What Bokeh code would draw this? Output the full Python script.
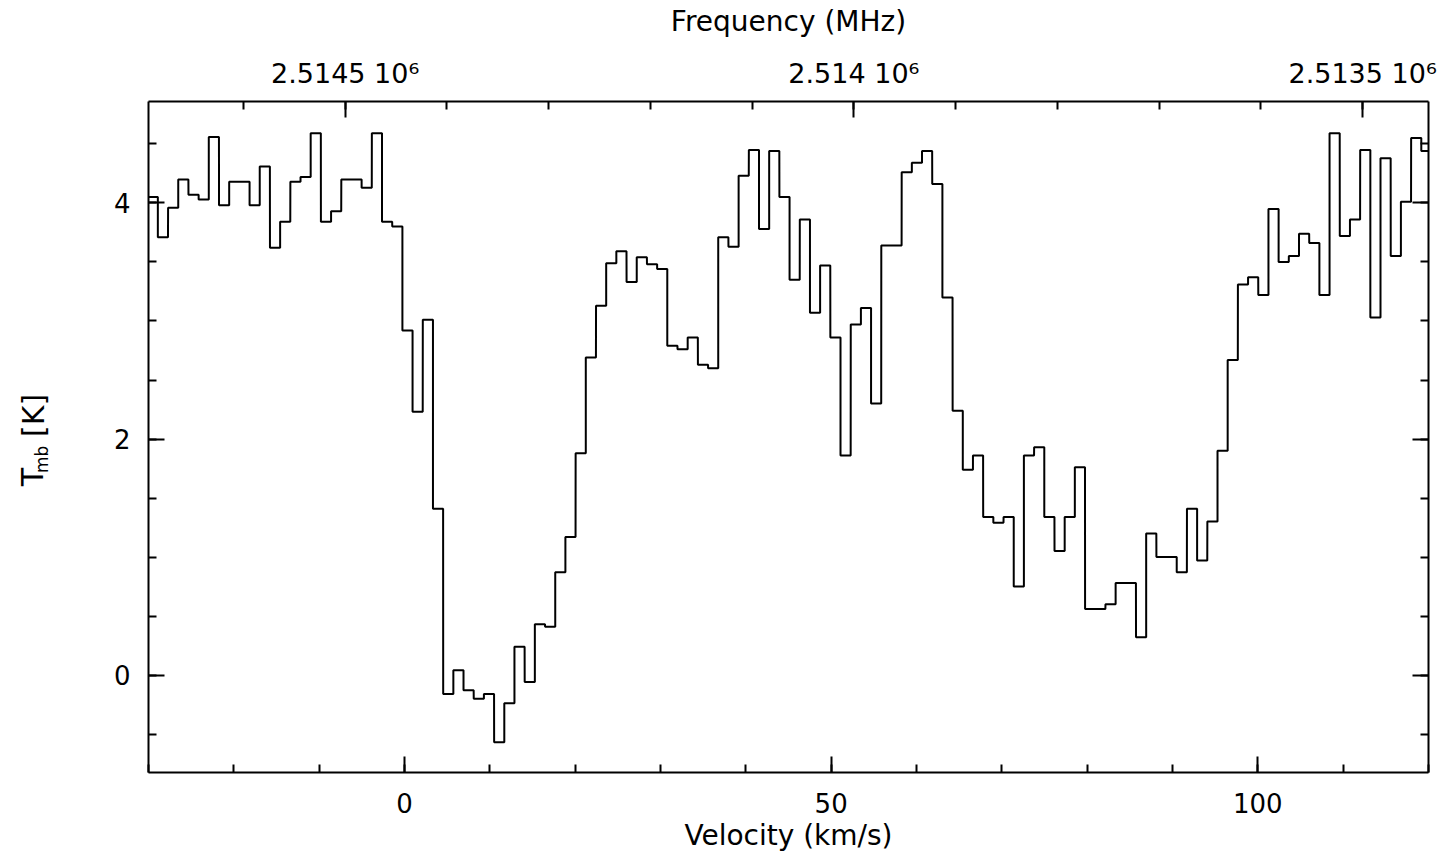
from bokeh.plotting import figure
from bokeh.models import Range1d, LinearAxis, FixedTicker
from bokeh.layouts import row
from bokeh.core.properties import value
from bokeh.embed import file_html
from bokeh.resources import INLINE
import math

# ---- data ----
velocity = [
    -29.50, -28.31, -27.11, -25.92, -24.72, -23.53, -22.34, -21.14, -19.95, -18.75,
    -17.56, -16.37, -15.17, -13.98, -12.78, -11.59, -10.40, -9.20, -8.01, -6.81,
    -5.62, -4.43, -3.23, -2.04, -0.84, 0.35, 1.54, 2.74, 3.93, 5.13,
    6.32, 7.51, 8.71, 9.90, 11.10, 12.29, 13.48, 14.68, 15.87, 17.07,
    18.26, 19.45, 20.65, 21.84, 23.04, 24.23, 25.42, 26.62, 27.81, 29.01,
    30.20, 31.39, 32.59, 33.78, 34.98, 36.17, 37.36, 38.56, 39.75, 40.95,
    42.14, 43.33, 44.53, 45.72, 46.92, 48.11, 49.30, 50.50, 51.69, 52.89,
    54.08, 55.27, 56.47, 57.66, 58.86, 60.05, 61.24, 62.44, 63.63, 64.83,
    66.02, 67.21, 68.41, 69.60, 70.80, 71.99, 73.18, 74.38, 75.57, 76.77,
    77.96, 79.15, 80.35, 81.54, 82.74, 83.93, 85.12, 86.32, 87.51, 88.71,
    89.90, 91.09, 92.29, 93.48, 94.68, 95.87, 97.06, 98.26, 99.45, 100.65,
    101.84, 103.03, 104.23, 105.42, 106.62, 107.81, 109.00, 110.20, 111.39, 112.59,
    113.78, 114.97, 116.17, 117.36, 118.56, 119.75,
]
tmb = [
    4.05, 3.71, 3.96, 4.20, 4.07, 4.03, 4.56, 3.98, 4.18, 4.18,
    3.98, 4.31, 3.62, 3.84, 4.18, 4.22, 4.59, 3.84, 3.93, 4.20,
    4.20, 4.13, 4.59, 3.84, 3.80, 2.92, 2.23, 3.01, 1.41, -0.16,
    0.04, -0.13, -0.20, -0.16, -0.57, -0.24, 0.24, -0.06, 0.43, 0.41,
    0.87, 1.17, 1.88, 2.69, 3.13, 3.49, 3.59, 3.33, 3.54, 3.48,
    3.44, 2.79, 2.76, 2.86, 2.63, 2.60, 3.71, 3.63, 4.23, 4.45,
    3.78, 4.44, 4.05, 3.35, 3.86, 3.07, 3.47, 2.86, 1.86, 2.97,
    3.11, 2.30, 3.64, 3.64, 4.26, 4.34, 4.44, 4.16, 3.20, 2.24,
    1.74, 1.86, 1.34, 1.29, 1.34, 0.75, 1.86, 1.93, 1.34, 1.05,
    1.34, 1.76, 0.56, 0.56, 0.60, 0.78, 0.78, 0.32, 1.20, 1.00,
    1.00, 0.87, 1.41, 0.97, 1.30, 1.90, 2.67, 3.31, 3.37, 3.22,
    3.95, 3.50, 3.55, 3.74, 3.66, 3.22, 4.59, 3.72, 3.86, 4.45,
    3.03, 4.38, 3.55, 4.01, 4.55, 4.44,
]

vel_major = [0, 50, 100]
vel_minor = [-30, -20, -10, 0, 10, 20, 30, 40, 50, 60, 70, 80, 90, 100, 110, 120]
t_major = [0, 2, 4]
t_minor = [-0.5, 0, 0.5, 1, 1.5, 2, 2.5, 3, 3.5, 4, 4.5]
freq_major = [2514500, 2514000, 2513500]
freq_labels = ["2.5145 10\u2076", "2.514 10\u2076", "2.5135 10\u2076"]
freq_minor = [2513500, 2513600, 2513700, 2513800, 2513900, 2514000,
              2514100, 2514200, 2514300, 2514400, 2514500, 2514600]
ylabel_parts = ["T", "mb", "[K]"]

F0 = 2514441.7          # MHz at v = 0
C_KMS = 299792.458

VMIN, VMAX = -30.0, 120.0
TMIN, TMAX = -0.826, 4.86

FONT = "DejaVu Sans"
W_TOTAL, H_TOTAL = 1450, 858
W_LAB = 60               # narrow strip that carries the rotated y-axis title

p = figure(width=W_TOTAL - W_LAB, height=H_TOTAL, output_backend="svg", toolbar_location=None,
           x_range=Range1d(VMIN, VMAX), y_range=Range1d(TMIN, TMAX),
           x_axis_location=None, y_axis_location=None,
           min_border_left=148 - W_LAB, min_border_right=22,
           min_border_top=101, min_border_bottom=86)
p.outline_line_color = None
p.background_fill_color = "white"
p.border_fill_color = "white"
for g in p.grid:
    g.visible = False

p.extra_x_ranges = {"freq": Range1d(start=F0 * (1 - VMIN / C_KMS), end=F0 * (1 - VMAX / C_KMS))}


def style(ax, label_size="26px"):
    ax.axis_line_color = "black"
    ax.axis_line_width = 2
    ax.major_tick_in = 16
    ax.major_tick_out = 0
    ax.minor_tick_in = 8
    ax.minor_tick_out = 0
    ax.major_tick_line_width = 2
    ax.minor_tick_line_width = 2
    ax.major_tick_line_color = "black"
    ax.minor_tick_line_color = "black"
    ax.major_label_text_font = FONT
    ax.major_label_text_font_size = label_size
    ax.major_label_text_color = "black"
    ax.axis_label_text_font = FONT
    ax.axis_label_text_font_size = "28px"
    ax.axis_label_text_font_style = "normal"
    ax.axis_label_text_color = "black"


bottom = LinearAxis(ticker=FixedTicker(ticks=vel_major, minor_ticks=vel_minor),
                    axis_label="Velocity (km/s)")
style(bottom)
bottom.major_label_standoff = 20
bottom.axis_label_standoff = 3
p.add_layout(bottom, "below")

top = LinearAxis(x_range_name="freq",
                 ticker=FixedTicker(ticks=freq_major, minor_ticks=freq_minor),
                 axis_label="Frequency (MHz)",
                 major_label_overrides=dict(zip(freq_major, freq_labels)))
style(top, "27px")
top.major_label_standoff = 13
top.axis_label_standoff = 17
p.add_layout(top, "above")

left = LinearAxis(ticker=FixedTicker(ticks=t_major, minor_ticks=t_minor))
style(left)
left.major_label_standoff = 18
p.add_layout(left, "left")

right = LinearAxis(ticker=FixedTicker(ticks=t_major, minor_ticks=t_minor),
                   major_label_overrides={t: "" for t in t_major})
style(right)
p.add_layout(right, "right")

# histogram-style spectrum
half = (velocity[1] - velocity[0]) / 2.0
xs, ys = [], []
for v, t in zip(velocity, tmb):
    xs += [v - half, v + half]
    ys += [t, t]
p.line(xs, ys, line_color="black", line_width=2)

# ---- strip with the rotated y-axis title  T_mb [K]  (pixel coordinates) ----
lab = figure(width=W_LAB, height=H_TOTAL, output_backend="svg", toolbar_location=None,
             x_range=Range1d(0, W_LAB), y_range=Range1d(0, H_TOTAL),
             x_axis_location=None, y_axis_location=None,
             min_border=0, min_border_left=0, min_border_right=0,
             min_border_top=0, min_border_bottom=0)
lab.outline_line_color = None
lab.background_fill_color = "white"
lab.border_fill_color = "white"
for g in lab.grid:
    g.visible = False

lab_x = [32, 41, 33]
lab_y = [H_TOTAL - 492, H_TOTAL - 475, H_TOTAL - 429]
lab_size = ["30px", "17px", "30px"]
for txt, x, y, s in zip(ylabel_parts, lab_x, lab_y, lab_size):
    lab.text(x=[x], y=[y], text=[txt], angle=math.pi / 2,
             text_font=value(FONT), text_font_size=value(s), text_color="black",
             text_align="left", text_baseline="alphabetic")

layout = row(lab, p, spacing=0)
open("out.html", "w").write(file_html(layout, INLINE))
